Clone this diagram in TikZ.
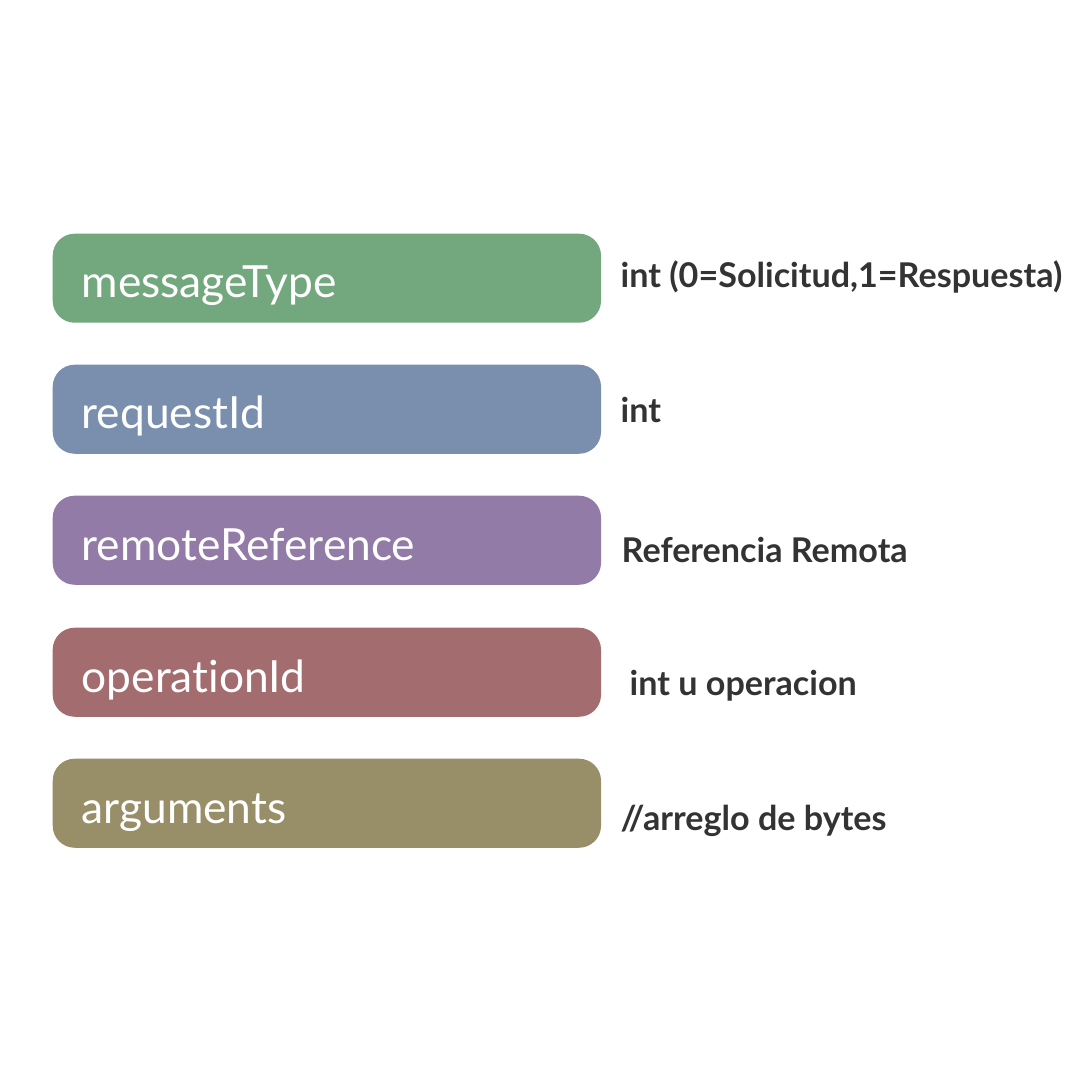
\documentclass[tikz,border=0pt]{standalone}
\usepackage{fontspec}
\setmainfont{Lato}[Ligatures={NoCommon}]
\definecolor{cgreen}{HTML}{73A77D}
\definecolor{cblue}{HTML}{7A8FAD}
\definecolor{cpurple}{HTML}{937BA8}
\definecolor{cred}{HTML}{A36D6F}
\definecolor{colive}{HTML}{988E68}
\definecolor{ctext}{HTML}{333333}
\begin{document}
\begin{tikzpicture}[x=0.01cm,y=-0.01cm,
  field/.style={rounded corners=0.22cm,inner sep=0pt,minimum width=5.48cm,minimum height=0.89cm,anchor=north west},
  fname/.style={anchor=base west,inner sep=0pt,text=white,font=\fontsize{12.6pt}{14pt}\selectfont},
  ftype/.style={anchor=base west,inner sep=0pt,text=ctext,font=\bfseries\fontsize{9.7pt}{12pt}\selectfont}]
\useasboundingbox[fill=white] (0,0) rectangle (1080,1080);
\node[field,fill=cgreen] (b1) at (52,233) {};
\node[field,fill=cblue] (b2) at (52,364) {};
\node[field,fill=cpurple] (b3) at (52,495) {};
\node[field,fill=cred] (b4) at (52,627) {};
\node[field,fill=colive] (b5) at (52,758) {};
\node[fname] (n1) at (81,298) {messageType};
\node[fname] (n2) at (81,429) {requestId};
\node[fname] (n3) at (81,560) {remoteReference};
\node[fname] (n4) at (81,692) {operationId};
\node[fname] (n5) at (81,823) {arguments};
\node[ftype] (t1) at (620,288) {int (0=Solicitud,1=Respuesta)};
\node[ftype] (t2) at (620,423) {int};
\node[ftype] (t3) at (621,562) {Referencia Remota};
\node[ftype] (t4) at (629,695) {int u operacion};
\node[ftype] (t5) at (620,830) {//arreglo de bytes};
\end{tikzpicture}
\end{document}
